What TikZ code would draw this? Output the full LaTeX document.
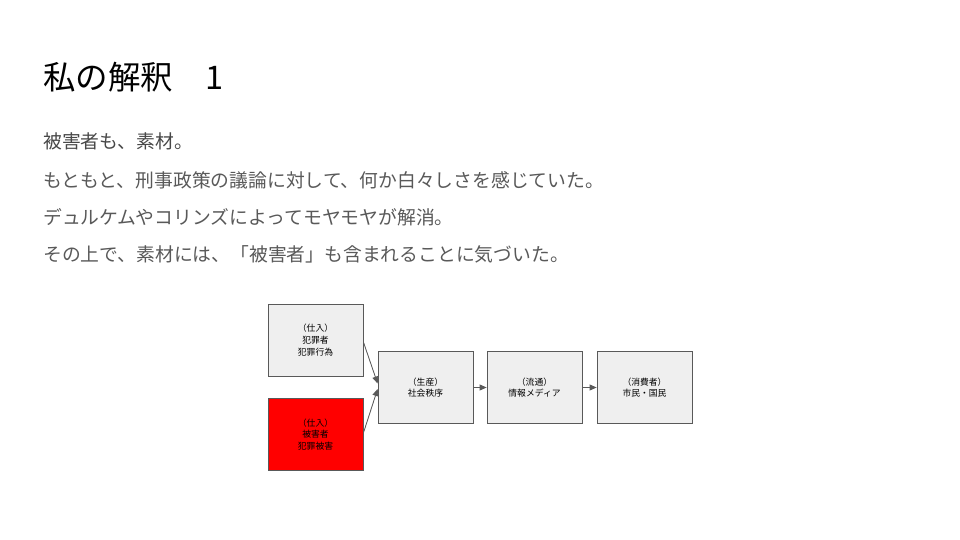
\documentclass[tikz,border=0pt]{standalone}
\usepackage{fontspec}
\setmainfont{Noto Sans CJK JP}
\usetikzlibrary{arrows.meta}
\definecolor{boxline}{HTML}{595959}
\definecolor{boxfill}{HTML}{EFEFEF}
\definecolor{bodygray}{HTML}{595959}
\definecolor{leadgray}{HTML}{484848}
\definecolor{redfill}{HTML}{FF0000}
\tikzset{
  stagebox/.style={draw=boxline, line width=0.8pt, fill=boxfill, minimum width=95pt, minimum height=72pt, inner sep=0pt, align=center, font=\fontsize{8.8}{11.7}\selectfont, text=black},
  redbox/.style={stagebox, fill=redfill},
  flow/.style={draw=boxline, line width=0.8pt, -{Triangle[length=7pt,width=6pt]}, fill=boxline},
  titletext/.style={anchor=base west, inner sep=0pt, font=\fontsize{32.5}{38}\selectfont, text=black},
  bodytext/.style={anchor=base west, inner sep=0pt, font=\fontsize{18.8}{22}\selectfont, text=bodygray},
}
\begin{document}
\begin{tikzpicture}[x=1pt,y=-1pt]
\useasboundingbox[fill=white] (0,0) rectangle (960,540);
\node[titletext] (title) at (43,89.5) {私の解釈　1};
\node[bodytext, text=leadgray] (l1) at (43,149) {被害者も、素材。};
\node[bodytext] (l2) at (43,187) {もともと、刑事政策の議論に対して、何か白々しさを感じていた。};
\node[bodytext] (l3) at (43,224) {デュルケムやコリンズによってモヤモヤが解消。};
\node[bodytext] (l4) at (43,261) {その上で、素材には、「被害者」も含まれることに気づいた。};

\node[stagebox] (A) at (315.5,340) {（仕入）\\犯罪者\\犯罪行為};
\node[redbox] (B) at (315.5,434.5) {（仕入）\\被害者\\犯罪被害};
\node[stagebox] (C) at (425.5,387.5) {（生産）\\社会秩序};
\node[stagebox] (D) at (534.5,387.5) {（流通）\\情報メディア};
\node[stagebox] (E) at (644.5,387.5) {（消費者）\\市民・国民};

\draw[flow] ([yshift=-2pt]A.east) -- ([yshift=4pt]C.west);
\draw[flow] ([yshift=1.5pt]B.east) -- ([yshift=-1.5pt]C.west);
\draw[flow] (C.east) -- (D.west);
\draw[flow] (D.east) -- (E.west);
\end{tikzpicture}
\end{document}
